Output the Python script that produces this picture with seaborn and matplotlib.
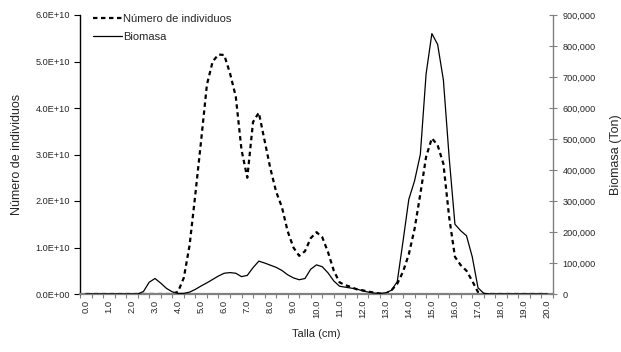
import numpy as np
import pandas as pd
import matplotlib
matplotlib.use("Agg")
import matplotlib.pyplot as plt
import seaborn as sns
from matplotlib.ticker import FuncFormatter, FixedLocator

# ---- data ----
talla = np.arange(0, 20.001, 0.25)  # cm, 0.25 cm grid

individuos_e10 = [0]*16 + [
    0.05, 0.35, 1.05, 2.15, 3.3, 4.5, 5.0, 5.15, 5.14, 4.75, 4.25, 3.1, 2.5,
    3.7, 3.9, 3.3, 2.7, 2.2, 1.87, 1.35, 1.0, 0.82, 0.92, 1.2, 1.33, 1.22,
    0.9, 0.5, 0.25, 0.19, 0.15, 0.1, 0.08, 0.05, 0.03, 0.01, 0.0, 0.08,
    0.22, 0.48, 0.85, 1.4, 2.15, 2.95, 3.35, 3.2, 2.8, 1.65, 0.8, 0.62,
    0.5, 0.28, 0.04] + [0]*12

biomasa_k = [0]*10 + [
    8, 38, 50, 35, 18, 7, 2, 2, 6, 15, 26, 36, 47, 58, 67, 69, 67, 56, 60,
    85, 106, 100, 93, 86, 76, 62, 52, 46, 50, 80, 94, 88, 68, 42, 25, 22,
    19, 16, 10, 6, 3, 2, 4, 12, 40, 170, 305, 365, 450, 710, 840, 805, 690,
    440, 225, 204, 188, 120, 20, 2] + [0]*11

x_tick_labels = [f"{v:.1f}" for v in np.arange(0, 20.001, 1.0)]

df = pd.DataFrame({
    "Talla": talla,
    "Individuos": np.array(individuos_e10) * 1e10,
    "Biomasa": np.array(biomasa_k) * 1000.0,
})

sns.set_theme(style="white")
plt.rcParams["font.family"] = ["Liberation Sans", "DejaVu Sans"]

fig = plt.figure(figsize=(6.21, 3.52), dpi=100)
ax = fig.add_axes([80/621, 1-294/352, (553-80)/621, (294-15)/352])
ax2 = ax.twinx()

sns.lineplot(data=df, x="Talla", y="Individuos", ax=ax, color="black",
             linewidth=1.6, linestyle=(0, (2.0, 1.6)),
             label="Número de individuos", legend=False)
sns.lineplot(data=df, x="Talla", y="Biomasa", ax=ax2, color="black",
             linewidth=0.9, label="Biomasa", legend=False)

ax.set_xlim(-0.25, 20.25)
ax.set_ylim(0, 6e10)
ax2.set_ylim(0, 900000)

ax.set_yticks(np.arange(0, 6.01e10, 1e10))
ax.yaxis.set_major_formatter(FuncFormatter(lambda v, p: f"{v:.1E}"))
ax2.set_yticks(np.arange(0, 900001, 100000))
ax2.yaxis.set_major_formatter(FuncFormatter(lambda v, p: f"{v:,.0f}"))

ax.set_xticks(np.arange(0, 20.001, 1.0))
ax.set_xticklabels(x_tick_labels, rotation=90)
ax.xaxis.set_minor_locator(FixedLocator(np.arange(-0.25, 20.26, 0.5)))
ax.tick_params(axis="x", which="major", length=0, pad=4, labelsize=6.8)
ax.tick_params(axis="x", which="minor", length=3, width=0.8, color="#808080",
               direction="out", bottom=True)
ax.tick_params(axis="y", which="major", length=4, width=0.8, direction="out",
               labelsize=6.6, color="black", pad=3)
ax2.tick_params(axis="y", which="major", length=6, width=0.8, direction="inout",
                labelsize=6.6, color="#808080", pad=4)

for sp in ["top"]:
    ax.spines[sp].set_visible(False)
    ax2.spines[sp].set_visible(False)
ax.spines["left"].set_color("black")
ax.spines["left"].set_linewidth(1.0)
ax.spines["bottom"].set_color("#808080")
ax.spines["bottom"].set_linewidth(1.6)
ax2.spines["right"].set_color("#808080")
ax2.spines["right"].set_linewidth(1.0)
ax2.spines["left"].set_visible(False)
ax2.spines["bottom"].set_visible(False)
ax.spines["right"].set_visible(False)

ax.set_xlabel("Talla (cm)", fontsize=8, labelpad=8)
ax.set_ylabel("Número de individuos", fontsize=9, labelpad=9)
ax2.set_ylabel("Biomasa (Ton)", fontsize=9, labelpad=10)

h1, l1 = ax.get_legend_handles_labels()
h2, l2 = ax2.get_legend_handles_labels()
leg = ax2.legend(h1 + h2, l1 + l2, loc="upper left",
                 bbox_to_anchor=(0.015, 1.025), frameon=False, fontsize=8,
                 handlelength=2.6, handletextpad=0.1, borderpad=0,
                 labelspacing=0.75)

fig.savefig("out.png", dpi=100)
